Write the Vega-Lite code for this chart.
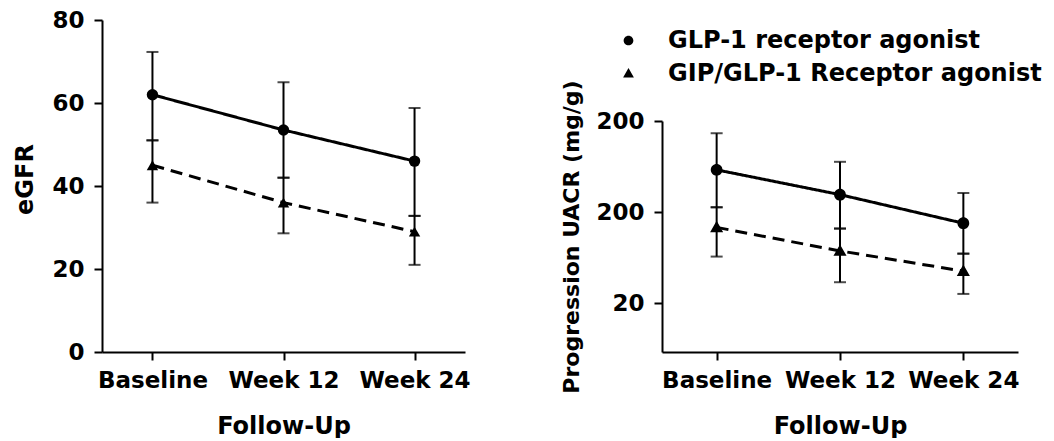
{
  "$schema": "https://vega.github.io/schema/vega-lite/v6.json",
  "background": "white",
  "padding": {"left": 13, "top": 9, "right": 0, "bottom": 0},
  "datasets": {
    "egfr": [
      {"time": "Baseline", "series": "GLP-1 receptor agonist", "mean": 62, "lo": 51, "hi": 72.3},
      {"time": "Week 12", "series": "GLP-1 receptor agonist", "mean": 53.5, "lo": 42, "hi": 65},
      {"time": "Week 24", "series": "GLP-1 receptor agonist", "mean": 46, "lo": 32.8, "hi": 58.8},
      {"time": "Baseline", "series": "GIP/GLP-1 Receptor agonist", "mean": 45, "lo": 36, "hi": 51},
      {"time": "Week 12", "series": "GIP/GLP-1 Receptor agonist", "mean": 36, "lo": 28.6, "hi": 42},
      {"time": "Week 24", "series": "GIP/GLP-1 Receptor agonist", "mean": 29, "lo": 21, "hi": 32.8}
    ],
    "uacr": [
      {"time": "Baseline", "series": "GLP-1 receptor agonist", "mean": 582, "lo": 226, "hi": 1468},
      {"time": "Week 12", "series": "GLP-1 receptor agonist", "mean": 311, "lo": 132, "hi": 713},
      {"time": "Week 24", "series": "GLP-1 receptor agonist", "mean": 151, "lo": 70, "hi": 324},
      {"time": "Baseline", "series": "GIP/GLP-1 Receptor agonist", "mean": 136, "lo": 65, "hi": 226},
      {"time": "Week 12", "series": "GIP/GLP-1 Receptor agonist", "mean": 75, "lo": 34, "hi": 132},
      {"time": "Week 24", "series": "GIP/GLP-1 Receptor agonist", "mean": 45, "lo": 25.3, "hi": 70}
    ]
  },
  "spacing": 89,
  "resolve": {
    "scale": {"shape": "independent", "strokeDash": "independent"},
    "legend": {"shape": "independent", "strokeDash": "independent"}
  },
  "hconcat": [
    {
      "width": 363,
      "height": 332,
      "data": {"name": "egfr"},
      "encoding": {
        "x": {
          "field": "time", "type": "ordinal", "sort": ["Baseline", "Week 12", "Week 24"],
          "scale": {"type": "point", "padding": 0.385},
          "title": "Follow-Up"
        }
      },
      "layer": [
        {
          "mark": {"type": "rule", "color": "black", "strokeWidth": 2},
          "encoding": {
            "y": {"field": "lo", "type": "quantitative", "scale": {"domain": [0, 80], "nice": false},
                  "axis": {"values": [0, 20, 40, 60, 80], "titleY": 159, "titlePadding": 14}, "title": "eGFR"},
            "y2": {"field": "hi"}
          }
        },
        {
          "mark": {"type": "tick", "color": "black", "size": 12, "thickness": 2},
          "encoding": {"y": {"field": "lo", "type": "quantitative"}}
        },
        {
          "mark": {"type": "tick", "color": "black", "size": 12, "thickness": 2},
          "encoding": {"y": {"field": "hi", "type": "quantitative"}}
        },
        {
          "mark": {"type": "line", "color": "black", "strokeWidth": 3},
          "encoding": {
            "y": {"field": "mean", "type": "quantitative"},
            "strokeDash": {"field": "series", "type": "nominal",
              "scale": {"domain": ["GLP-1 receptor agonist", "GIP/GLP-1 Receptor agonist"], "range": [[1, 0], [12, 7]]},
              "legend": null}
          }
        },
        {
          "mark": {"type": "point", "filled": true, "color": "black", "opacity": 1, "size": 130},
          "encoding": {
            "y": {"field": "mean", "type": "quantitative"},
            "shape": {"field": "series", "type": "nominal",
              "scale": {"domain": ["GLP-1 receptor agonist", "GIP/GLP-1 Receptor agonist"], "range": ["circle", "triangle-up"]},
              "legend": null}
          }
        }
      ]
    },
    {
      "width": 356,
      "height": 332,
      "data": {"name": "uacr"},
      "encoding": {
        "x": {
          "field": "time", "type": "ordinal", "sort": ["Baseline", "Week 12", "Week 24"],
          "scale": {"type": "point", "padding": 0.443},
          "title": "Follow-Up"
        }
      },
      "layer": [
        {
          "mark": {"type": "rule", "color": "black", "strokeWidth": 2},
          "encoding": {
            "y": {"field": "lo", "type": "quantitative",
                  "scale": {"type": "log", "domain": [5.83, 2000], "nice": false, "range": [332, 101]},
                  "axis": {"values": [20, 200, 2000], "format": "d", "labelExpr": "datum.value >= 1000 ? '200' : datum.label", "titleFontSize": 22, "titlePadding": 12},
                  "title": "Progression UACR (mg/g)"},
            "y2": {"field": "hi"}
          }
        },
        {
          "mark": {"type": "tick", "color": "black", "size": 12, "thickness": 2},
          "encoding": {"y": {"field": "lo", "type": "quantitative"}}
        },
        {
          "mark": {"type": "tick", "color": "black", "size": 12, "thickness": 2},
          "encoding": {"y": {"field": "hi", "type": "quantitative"}}
        },
        {
          "mark": {"type": "line", "color": "black", "strokeWidth": 3},
          "encoding": {
            "y": {"field": "mean", "type": "quantitative"},
            "detail": {"field": "series", "type": "nominal"},
            "strokeDash": {"condition": {"test": "datum.series === 'GIP/GLP-1 Receptor agonist'", "value": [12, 7]}, "value": [1, 0]}
          }
        },
        {
          "mark": {"type": "point", "filled": true, "color": "black", "fill": "black", "stroke": "black", "strokeWidth": 3, "opacity": 1, "size": 1900},
          "encoding": {
            "y": {"field": "mean", "type": "quantitative"},
            "strokeWidth": {"value": 0},
            "shape": {"field": "series", "type": "nominal",
              "scale": {"domain": ["GLP-1 receptor agonist", "GIP/GLP-1 Receptor agonist"],
                        "range": ["M-1,0H1M0.27,0A0.27,0.27,0,1,1,-0.27,0A0.27,0.27,0,1,1,0.27,0Z", "M-1,0H-0.55M0.55,0H1M0,-0.3L0.3,0.22L-0.3,0.22Z"]},
              "legend": {
                "title": null,
                "orient": "none",
                "legendX": -53,
                "legendY": 1,
                "padding": 0,
                "symbolSize": 1296,
                "symbolStrokeColor": "black",
                "symbolStrokeWidth": 3,
                "symbolFillColor": "black",
                "rowPadding": 1,
                "labelOffset": 20,
                "labelLimit": 600,
                "labelFont": "DejaVu Sans",
                "labelFontWeight": "bold",
                "labelFontSize": 24,
                "labelColor": "black"
              }
            }
          }
        }
      ]
    }
  ],
  "config": {
    "view": {"stroke": null},
    "font": "DejaVu Sans",
    "axis": {
      "grid": false,
      "domainColor": "black", "domainWidth": 2,
      "tickColor": "black", "tickWidth": 2, "tickSize": 8,
      "labelFont": "DejaVu Sans", "labelFontWeight": "bold", "labelFontSize": 23, "labelColor": "black",
      "titleFont": "DejaVu Sans", "titleFontWeight": "bold", "titleFontSize": 24, "titleColor": "black"
    },
    "axisX": {"labelAngle": 0, "labelPadding": 9, "titlePadding": 22},
    "axisY": {"labelPadding": 10}
  }
}
